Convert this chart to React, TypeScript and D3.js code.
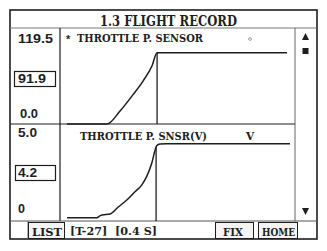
import React from "react";
import * as d3 from "d3";

// ---- data ----
const title = "1.3 FLIGHT RECORD";
const topLabel = "THROTTLE P. SENSOR";
const bottomLabel = "THROTTLE P. SNSR(V)";
const bottomUnit = "V";
const topTicks = ["119.5", "0.0"];
const bottomTicks = ["5.0", "0"];
const topMax = 119.5;
const bottomMax = 5.0;
const cursorT = 40.4;
const topCursorValue = "91.9";
const bottomCursorValue = "4.2";
const footerInfo = "[T-27]  [0.4 S]";
const buttons = ["LIST", "FIX", "HOME"];

// time samples (arbitrary units 0..100) and values
const topTimes = [0, 17.9, 23.8, 29.6, 34.1, 38.1, 40.4, 98.7];
const topValues = [0, 0, 16.8, 37.9, 55.5, 74.9, 91.9, 91.9];
const bottomTimes = [0, 13.3, 14.3, 15.7, 19.3, 23.0, 26.8, 30.5, 33.5, 35.7, 38.0, 39.5, 40.2, 41.7, 44.7, 100];
const bottomValues = [0.07, 0.07, 0.14, 0.22, 0.28, 0.67, 1.06, 1.53, 1.9, 2.37, 3.12, 3.86, 4.1, 4.2, 4.22, 4.22];

const SERIF = "'DejaVu Serif', 'Liberation Serif', serif";
const SANS = "'Liberation Sans', Arial, sans-serif";
const INK = "#1e1e1e";

export default function App() {
  const W = 327, H = 251;
  const x = d3.scaleLinear().domain([0, 100]).range([67, 290]);
  const yTop = d3.scaleLinear().domain([0, topMax]).range([124, 31.5]);
  const yBot = d3.scaleLinear().domain([0, bottomMax]).range([219, 129.7]);

  const topLine = d3.line<number>()
    .x((_, i) => x(topTimes[i]))
    .y((d) => yTop(d))
    .curve(d3.curveMonotoneX)(topValues) || "";
  const botLine = d3.line<number>()
    .x((_, i) => x(bottomTimes[i]))
    .y((d) => yBot(d))
    .curve(d3.curveMonotoneX)(bottomValues) || "";

  const cx = x(cursorT);
  const tri = (cx0: number, y0: number, up: boolean) =>
    up
      ? `M${cx0 - 3.5},${y0 + 7} L${cx0 + 3.5},${y0 + 7} L${cx0},${y0} Z`
      : `M${cx0 - 3.5},${y0} L${cx0 + 3.5},${y0} L${cx0},${y0 + 7} Z`;

  return (
    <svg width={W} height={H} style={{ position: "absolute", left: 0, top: 0, background: "#fff" }}>
      <rect x={0} y={0} width={W} height={H} fill="#fff" />
      {/* frame */}
      <rect x={10} y={10} width={307} height={229} fill="none" stroke={INK} strokeWidth={1.6} />
      <line x1={10} x2={317} y1={28} y2={28} stroke="#777" strokeWidth={1} />
      <line x1={60} x2={60} y1={28} y2={221} stroke={INK} strokeWidth={1.2} />
      <line x1={295} x2={295} y1={28} y2={221} stroke="#666" strokeWidth={1} />
      <line x1={10} x2={295} y1={124} y2={124} stroke={INK} strokeWidth={1.2} />
      <line x1={10} x2={317} y1={221} y2={221} stroke="#555" strokeWidth={1} />
      <line x1={28} x2={28} y1={221} y2={239} stroke="#666" strokeWidth={1} />

      {/* title */}
      <text x={100} y={26} fontFamily={SERIF} fontWeight="bold" fontSize={14} fill={INK}
        textLength={137} lengthAdjust="spacingAndGlyphs">{title}</text>

      {/* top panel */}
      <text x={18} y={43} fontFamily={SANS} fontWeight="bold" fontSize={13} fill={INK}
        textLength={35} lengthAdjust="spacingAndGlyphs">{topTicks[0]}</text>
      <rect x={14.5} y={71.5} width={41} height={15} fill="#fff" stroke={INK} strokeWidth={1.2} />
      <text x={18} y={83} fontFamily={SANS} fontWeight="bold" fontSize={12.5} fill={INK}
        textLength={28} lengthAdjust="spacingAndGlyphs">{topCursorValue}</text>
      <text x={20} y={118} fontFamily={SANS} fontWeight="bold" fontSize={12.5} fill={INK}
        textLength={18} lengthAdjust="spacingAndGlyphs">{topTicks[1]}</text>

      <text x={66} y={43} fontFamily={SANS} fontWeight="bold" fontSize={11} fill={INK}>*</text>
      <text x={77} y={42} fontFamily={SERIF} fontWeight="bold" fontSize={10.5} fill={INK}
        textLength={126} lengthAdjust="spacingAndGlyphs">{topLabel}</text>
      <circle cx={250} cy={39} r={1.4} fill="none" stroke="#888" strokeWidth={0.8} />

      <path d={topLine} fill="none" stroke={INK} strokeWidth={1.5} />
      <line x1={cx} x2={cx} y1={yTop(+topCursorValue)} y2={124} stroke={INK} strokeWidth={1.3} />

      {/* bottom panel */}
      <text x={18} y={137} fontFamily={SANS} fontWeight="bold" fontSize={12.5} fill={INK}
        textLength={19} lengthAdjust="spacingAndGlyphs">{bottomTicks[0]}</text>
      <rect x={15.5} y={165.5} width={40} height={15} fill="#fff" stroke={INK} strokeWidth={1.2} />
      <text x={18} y={177} fontFamily={SANS} fontWeight="bold" fontSize={12.5} fill={INK}
        textLength={19} lengthAdjust="spacingAndGlyphs">{bottomCursorValue}</text>
      <text x={18} y={213} fontFamily={SANS} fontWeight="bold" fontSize={12.5} fill={INK}>{bottomTicks[1]}</text>

      <text x={80} y={140} fontFamily={SERIF} fontWeight="bold" fontSize={10.5} fill={INK}
        textLength={127} lengthAdjust="spacingAndGlyphs">{bottomLabel}</text>
      <text x={246} y={140} fontFamily={SERIF} fontWeight="bold" fontSize={10.5} fill={INK}>{bottomUnit}</text>

      <path d={botLine} fill="none" stroke={INK} strokeWidth={1.5} />
      <line x1={cx - 1} x2={cx - 1} y1={yBot(+bottomCursorValue) + 3} y2={221} stroke={INK} strokeWidth={1.3} />

      {/* right column */}
      <path d={tri(305.5, 33, true)} fill={INK} />
      <rect x={302.5} y={48} width={6} height={6} fill={INK} />
      <path d={tri(305.5, 208, false)} fill={INK} />

      {/* footer */}
      <rect x={28.5} y={222.5} width={36} height={16} fill="#f4f4f4" stroke={INK} strokeWidth={1} />
      <text x={32} y={236} fontFamily={SERIF} fontWeight="bold" fontSize={11.5} fill={INK}
        textLength={30} lengthAdjust="spacingAndGlyphs">{buttons[0]}</text>
      <text x={70} y={235} fontFamily={SERIF} fontWeight="bold" fontSize={10.5} fill={INK}
        textLength={87} lengthAdjust="spacingAndGlyphs" style={{ whiteSpace: "pre" }}>{footerInfo}</text>
      <rect x={215.5} y={222.5} width={38} height={16} fill="#f4f4f4" stroke={INK} strokeWidth={1} />
      <text x={223} y={236} fontFamily={SERIF} fontWeight="bold" fontSize={11.5} fill={INK}
        textLength={20} lengthAdjust="spacingAndGlyphs">{buttons[1]}</text>
      <rect x={258.5} y={222.5} width={39} height={16} fill="#f4f4f4" stroke={INK} strokeWidth={1} />
      <text x={262} y={236} fontFamily={SERIF} fontWeight="bold" fontSize={11.5} fill={INK}
        textLength={33} lengthAdjust="spacingAndGlyphs">{buttons[2]}</text>
    </svg>
  );
}
